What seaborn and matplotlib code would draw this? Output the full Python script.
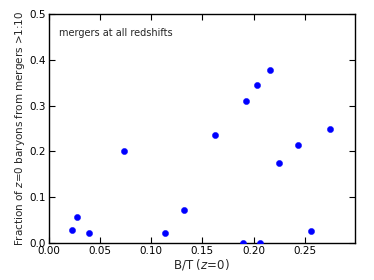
import numpy as np
import pandas as pd
import matplotlib
matplotlib.use('Agg')
import matplotlib.pyplot as plt
import seaborn as sns

# values
bt = [0.0231, 0.0276, 0.0397, 0.0737, 0.1135, 0.1324, 0.1628, 0.1894,
      0.1923, 0.2038, 0.2061, 0.2160, 0.2250, 0.2436, 0.2564, 0.2750]
merger_frac = [0.028, 0.056, 0.021, 0.200, 0.022, 0.072, 0.236, 0.0,
               0.311, 0.346, 0.0, 0.377, 0.175, 0.215, 0.026, 0.248]
xticks = [0.00, 0.05, 0.10, 0.15, 0.20, 0.25]
yticks = [0.0, 0.1, 0.2, 0.3, 0.4, 0.5]

df = pd.DataFrame({'bt': bt, 'frac': merger_frac})

sns.set_style('ticks')
plt.rcParams['font.family'] = ['DejaVu Sans']
plt.rcParams['mathtext.fontset'] = 'dejavusans'
plt.rcParams['xtick.direction'] = 'in'
plt.rcParams['ytick.direction'] = 'in'
plt.rcParams['xtick.top'] = True
plt.rcParams['ytick.right'] = True

fig = plt.figure(figsize=(3.74, 2.8), dpi=100)
ax = fig.add_axes([0.13, 0.132, 0.819, 0.818])
sns.scatterplot(data=df, x='bt', y='frac', color='#0000ff', s=20,
                edgecolor='#0000ff', linewidth=0.3, ax=ax, zorder=3)

ax.set_xlim(0, 0.299)
ax.set_ylim(0, 0.5)
ax.set_xticks(xticks)
ax.set_xticklabels(['%.2f' % t for t in xticks])
ax.set_yticks(yticks)
ax.set_yticklabels(['%.1f' % t for t in yticks])
ax.tick_params(labelsize=7.5, length=4, width=0.8, color='black', labelcolor='black', pad=2)
for sp in ax.spines.values():
    sp.set_color('black')
    sp.set_linewidth(1.0)

ax.set_xlabel('B/T ($z$=0)', fontsize=8.5, labelpad=1)
ax.set_ylabel('Fraction of $z$=0 baryons from mergers >1:10', fontsize=7.5, labelpad=2)
ax.text(0.034, 0.917, 'mergers at all redshifts', transform=ax.transAxes,
        fontsize=7, va='center', ha='left')

fig.savefig('out.png', dpi=100)
